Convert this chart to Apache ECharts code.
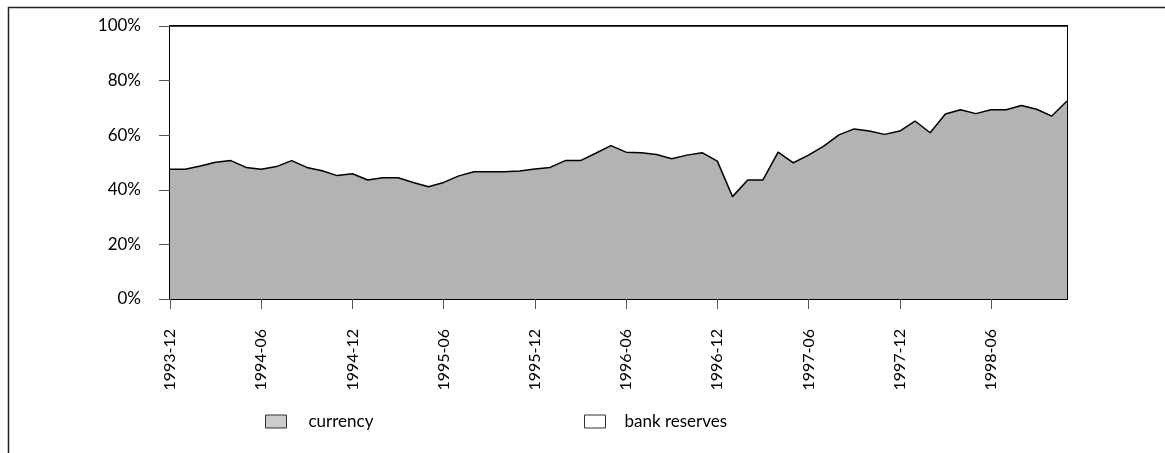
<!DOCTYPE html>
<html>
<head>
<meta charset="utf-8">
<script src="https://cdn.jsdelivr.net/npm/echarts@6/dist/echarts.min.js"></script>
<style>
html,body{margin:0;padding:0;background:#fff;}
#chart{width:1165px;height:453px;}
</style>
</head>
<body>
<div id="chart"></div>
<script>
const months = [
  '1993-12',
  '1994-01','1994-02','1994-03','1994-04','1994-05','1994-06','1994-07','1994-08','1994-09','1994-10','1994-11','1994-12',
  '1995-01','1995-02','1995-03','1995-04','1995-05','1995-06','1995-07','1995-08','1995-09','1995-10','1995-11','1995-12',
  '1996-01','1996-02','1996-03','1996-04','1996-05','1996-06','1996-07','1996-08','1996-09','1996-10','1996-11','1996-12',
  '1997-01','1997-02','1997-03','1997-04','1997-05','1997-06','1997-07','1997-08','1997-09','1997-10','1997-11','1997-12',
  '1998-01','1998-02','1998-03','1998-04','1998-05','1998-06','1998-07','1998-08','1998-09','1998-10','1998-11'
];
const currency = [
  47.5, 47.5, 48.7, 50.1, 50.7, 48.2, 47.5, 48.5, 50.7, 48.2,
  47.0, 45.2, 45.9, 43.6, 44.4, 44.4, 42.7, 41.1, 42.7, 45.1,
  46.6, 46.6, 46.6, 46.9, 47.6, 48.2, 50.7, 50.7, 53.4, 56.2,
  53.8, 53.6, 52.9, 51.4, 52.7, 53.6, 50.5, 37.5, 43.6, 43.6,
  53.8, 49.9, 52.7, 56.0, 60.1, 62.3, 61.5, 60.3, 61.5, 65.2,
  60.9, 67.8, 69.3, 67.9, 69.3, 69.3, 70.9, 69.5, 67.0, 72.5
];
const bankReserves = [
  52.5, 52.5, 51.3, 49.9, 49.3, 51.8, 52.5, 51.5, 49.3, 51.8,
  53.0, 54.8, 54.1, 56.4, 55.6, 55.6, 57.3, 58.9, 57.3, 54.9,
  53.4, 53.4, 53.4, 53.1, 52.4, 51.8, 49.3, 49.3, 46.6, 43.8,
  46.2, 46.4, 47.1, 48.6, 47.3, 46.4, 49.5, 62.5, 56.4, 56.4,
  46.2, 50.1, 47.3, 44.0, 39.9, 37.7, 38.5, 39.7, 38.5, 34.8,
  39.1, 32.2, 30.7, 32.1, 30.7, 30.7, 29.1, 30.5, 33.0, 27.5
];
const yTicks = [0, 20, 40, 60, 80, 100];

const FONT = 'Lato';
const chart = echarts.init(document.getElementById('chart'), null, {renderer: 'canvas'});
const option = {
  animation: false,
  backgroundColor: '#fff',
  textStyle: {fontFamily: FONT},
  graphic: [{
    type: 'rect', left: 6, top: 5,
    shape: {width: 1200, height: 500},
    style: {fill: 'none', stroke: '#222', lineWidth: 1.5},
    silent: true, z: 0
  }],
  grid: {
    left: 170, right: 98, top: 26, bottom: 154,
    show: true, borderColor: '#000', borderWidth: 2, backgroundColor: 'transparent'
  },
  legend: [{
    left: 265, top: 413, padding: 0,
    itemWidth: 21, itemHeight: 13,
    textStyle: {fontFamily: FONT, fontSize: 17, color: '#000', padding: [0, 0, 0, 17]},
    data: [{name: 'currency', icon: 'rect', itemStyle: {color: '#cccccc', borderColor: '#333', borderWidth: 1}}]
  }, {
    left: 584, top: 413, padding: 0,
    itemWidth: 21, itemHeight: 13,
    textStyle: {fontFamily: FONT, fontSize: 17, color: '#000', padding: [0, 0, 0, 14]},
    data: [{name: 'bank reserves', icon: 'rect', itemStyle: {color: '#ffffff', borderColor: '#333', borderWidth: 1}}]
  }],
  xAxis: {
    type: 'category',
    data: months,
    boundaryGap: false,
    axisLine: {show: true, lineStyle: {color: '#000', width: 2}},
    axisTick: {show: true, interval: 5, length: 10, lineStyle: {color: '#555'}},
    axisLabel: {
      interval: 5, rotate: 90, margin: 30,
      fontFamily: FONT, fontSize: 16, color: '#000'
    },
    splitLine: {show: false}
  },
  yAxis: {
    type: 'value',
    min: yTicks[0], max: yTicks[yTicks.length - 1], interval: 20,
    axisLine: {show: true, lineStyle: {color: '#000', width: 2}},
    axisTick: {show: true, length: 11, lineStyle: {color: '#555'}},
    axisLabel: {
      margin: 29, fontFamily: FONT, fontSize: 17, color: '#000',
      formatter: '{value}%'
    },
    splitLine: {show: false}
  },
  series: [{
    name: 'currency',
    type: 'line',
    stack: 'total',
    data: currency,
    symbol: 'none',
    lineStyle: {color: '#000', width: 1.5},
    itemStyle: {color: '#cccccc', borderColor: '#333'},
    areaStyle: {color: '#b3b3b3', opacity: 1},
    z: 3
  }, {
    name: 'bank reserves',
    type: 'line',
    stack: 'total',
    data: bankReserves,
    symbol: 'none',
    lineStyle: {color: '#000', width: 1.5},
    itemStyle: {color: '#ffffff', borderColor: '#333'},
    areaStyle: {color: '#ffffff', opacity: 1},
    z: 2
  }]
};
chart.setOption(option);
</script>
</body>
</html>
